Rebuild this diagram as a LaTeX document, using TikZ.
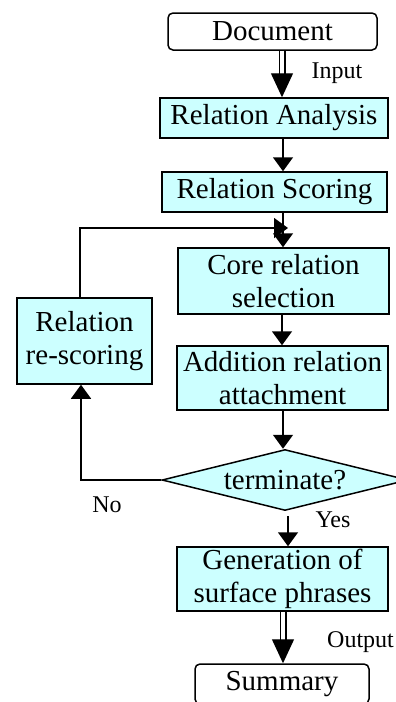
\documentclass[tikz,border=0pt]{standalone}
\usepackage{fontspec}
\setmainfont{Liberation Serif}
\usetikzlibrary{arrows.meta, shapes.geometric}

\definecolor{boxcyan}{RGB}{204,255,255}

\begin{document}
\begin{tikzpicture}[x=1pt, y=-1pt, line cap=butt, line join=miter]

% --- Global TikZ Styles ---
\tikzset{
    stepbox/.style={
        draw=black,
        fill=boxcyan,
        line width=1.5pt,
        inner sep=0pt,
        align=center,
        font=\fontsize{29}{33}\selectfont
    },
    endbox/.style={
        draw=black,
        fill=white,
        rounded corners=5pt,
        line width=1.5pt,
        inner sep=0pt,
        font=\fontsize{29}{33}\selectfont
    },
    decision/.style={
        diamond,
        draw=black,
        fill=boxcyan,
        line width=1.5pt,
        inner sep=0pt,
        shape aspect=4,
        font=\fontsize{29}{33}\selectfont
    },
    flow/.style={
        -{Triangle[length=14pt, width=20pt]},
        line width=1.5pt,
        draw=black
    },
    bigflow/.style={
        -{Triangle[length=24pt, width=22pt]},
        double,
        double distance=4.4pt,
        line width=1.3pt,
        draw=black
    },
    tag/.style={
        inner sep=0pt,
        font=\fontsize{24}{28}\selectfont
    }
}

\useasboundingbox (0,0) rectangle (396,702);

% --- Boxes ---
\node[endbox, minimum width=209pt, minimum height=37pt] (doc) at (272.5,31.5) {Document};
\node[stepbox, minimum width=228pt, minimum height=40pt] (ana) at (274,118) {Relation Analysis};
\node[stepbox, minimum width=225pt, minimum height=40pt] (sco) at (274.5,192) {Relation Scoring};
\node[stepbox, minimum width=211pt, minimum height=66pt] (core) at (283.5,281) {Core relation\\selection};
\node[stepbox, minimum width=135pt, minimum height=86pt] (resc) at (84.5,341) {Relation\\re-scoring};
\node[stepbox, minimum width=211pt, minimum height=64pt] (add) at (282.5,378) {Addition relation\\attachment};
\node[decision, minimum width=246pt, minimum height=61pt] (term) at (285,480) {terminate?};
\node[stepbox, minimum width=211pt, minimum height=64pt] (gen) at (282.5,579) {Generation of\\surface phrases};
\node[endbox, minimum width=174pt, minimum height=40pt] (sum) at (282,684) {Summary};

% --- Spine of the main flow and the loop side ---
\coordinate (spine) at (283,0);
\coordinate (loop) at (81,0);
\coordinate (merge) at (288,228);

% --- Main flow ---
\draw[bigflow] (doc.south -| spine) ++(-1,0) -- ([xshift=-1pt]ana.north -| spine);
\draw[flow] (ana.south -| spine) -- (sco.north -| spine);
\draw[flow] (sco.south -| spine) -- (core.north -| spine);
\draw[flow] (core.south -| spine) ++(-1,0) -- ([xshift=-1pt]add.north -| spine);
\draw[flow] (add.south -| spine) -- (term.north -| spine);
\draw[flow, shorten <=5pt] ([xshift=3pt]term.south) -- ([xshift=3pt]gen.north -| term.south);
\draw[bigflow] (gen.south -| spine) -- (sum.north -| spine);

% --- Loop back ---
\draw[flow] (term.west) -| (resc.south -| loop);
\draw[flow] (resc.north -| loop) ++(-1,0) |- (merge);

% --- Labels ---
\node[tag] (input) at (337,73) {Input};
\node[tag] (no) at (107,505) {No};
\node[tag] (yes) at (333,520) {Yes};
\node[tag, anchor=west] (output) at (327,642) {Output};

\end{tikzpicture}
\end{document}
